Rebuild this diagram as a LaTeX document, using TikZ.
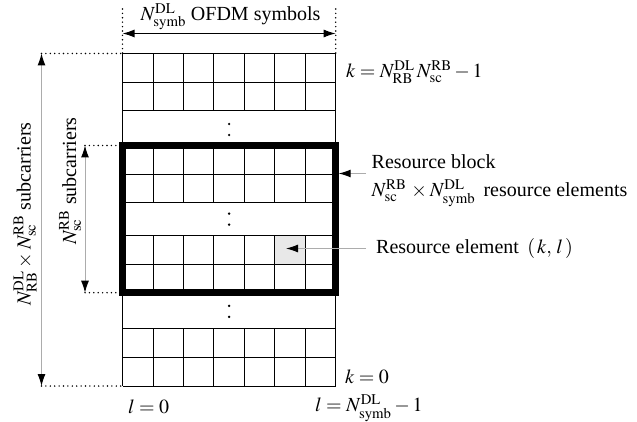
\documentclass[tikz,border=0pt]{standalone}
\usepackage{mathptmx}
\usepackage{fontspec}
\setmainfont{Liberation Serif}
\usetikzlibrary{arrows.meta}
\tikzset{
  gridline/.style={line width=0.9pt},
  rbbox/.style={line width=6.5pt},
  dotline/.style={line width=1.6pt, line cap=round, dash pattern=on 0pt off 4.4pt},
  ptr/.style={gray!65, line width=1pt, -{Latex[black,length=12pt,width=8pt]}},
  dimarrow/.style={gray!65, line width=1pt, {Latex[black,length=12pt,width=8pt]}-{Latex[black,length=12pt,width=8pt]}},
  toparrow/.style={black, line width=1.1pt, {Latex[length=12pt,width=8pt]}-{Latex[length=12pt,width=8pt]}},
  lbl/.style={inner sep=0pt, anchor=west},
}
\begin{document}
\begin{tikzpicture}[x=1pt,y=-1pt,font=\fontsize{20}{24}\selectfont]
\useasboundingbox (0,0) rectangle (637,422);
\def\xa{122.5}
\def\xb{335.7}
% highlighted resource element
\fill[gray!18] (274.8,235.5) rectangle (305.2,264.1);
% grid blocks
\foreach \t in {53.5,145.5,235.5,328.8} {
  \foreach \j in {0,1,2} \draw[gridline] (\xa,\t+\j*28.6) -- (\xb,\t+\j*28.6);
  \foreach \i in {1,...,6} \draw[gridline] (\xa+\i*30.457,\t) -- (\xa+\i*30.457,\t+57.2);
}
\draw[gridline] (\xa,53.5) -- (\xa,386);
\draw[gridline] (\xb,53.5) -- (\xb,386);
% vertical dots
\foreach \c in {129.5,219.1,311.4} {
  \fill (229.1,\c-5.5) circle (1.3pt);
  \fill (229.1,\c+5.5) circle (1.3pt);
}
% resource block frame
\draw[rbbox] (\xa,145.5) rectangle (\xb,292.7);
% dotted guides
\draw[dotline] (\xa,9) -- (\xa,53.5);
\draw[dotline] (\xb,9) -- (\xb,53.5);
\draw[dotline] (41.5,53.5) -- (\xa,53.5);
\draw[dotline] (41.5,386) -- (\xa,386);
\draw[dotline] (85,145.5) -- (119,145.5);
\draw[dotline] (85,292.7) -- (119,292.7);
% coordinates for dimension arrows
\coordinate (tl) at (\xa,33.5);
\coordinate (tr) at (\xb,33.5);
\coordinate (lt) at (41.5,53.5);
\coordinate (lb) at (41.5,386);
\coordinate (st) at (85,145.5);
\coordinate (sb) at (85,292.7);
\draw[toparrow] (tl) -- (tr);
\draw[dimarrow] (lt) -- (lb);
\draw[dimarrow] (st) -- (sb);
% labels
\node[inner sep=0pt] (toplbl) at (230.5,17) {$N^{\mathrm{DL}}_{\mathrm{symb}}$ OFDM symbols};
\node[inner sep=0pt, rotate=90] (longlbl) at (25,214) {$N^{\mathrm{DL}}_{\mathrm{RB}}\times N^{\mathrm{RB}}_{\mathrm{sc}}$ subcarriers};
\node[inner sep=0pt, rotate=90] (shortlbl) at (70,181) {$N^{\mathrm{RB}}_{\mathrm{sc}}$ subcarriers};
\node[lbl] (kmax) at (346,72) {$k=N^{\mathrm{DL}}_{\mathrm{RB}}\,N^{\mathrm{RB}}_{\mathrm{sc}}-1$};
\node[lbl] (kzero) at (345,377) {$k=0$};
\node[lbl] (lzero) at (128,407) {$l=0$};
\node[lbl] (lmax) at (315,408) {$l=N^{\mathrm{DL}}_{\mathrm{symb}}-1$};
\node[lbl] (rbtext) at (371.5,162) {Resource block};
\node[lbl] (rbsize) at (371.5,193) {$N^{\mathrm{RB}}_{\mathrm{sc}}\,\times N^{\mathrm{DL}}_{\mathrm{symb}}$\, resource elements};
\node[lbl] (retext) at (376,248) {Resource element\, $(\,k,\, l\,)$};
% pointers
\coordinate (rbfrom) at (366,173.5);
\coordinate (rbtip) at (338.7,173.5);
\coordinate (refrom) at (366,248.5);
\coordinate (retip) at (286,248.5);
\draw[ptr] (rbfrom) -- (rbtip);
\draw[ptr] (refrom) -- (retip);
\end{tikzpicture}
\end{document}
